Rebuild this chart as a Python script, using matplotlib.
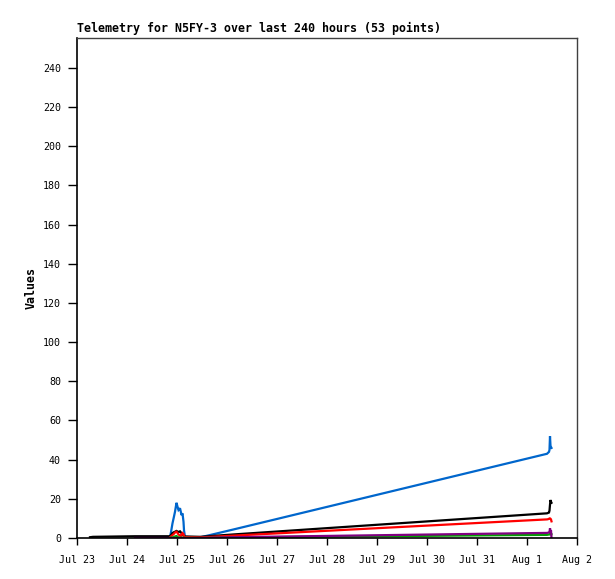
import datetime as dt

import matplotlib as mpl
mpl.use("Agg")
import matplotlib.pyplot as plt
import numpy as np

mpl.rcParams["font.family"] = "DejaVu Sans Mono"
mpl.rcParams["font.size"] = 7.2

start = dt.datetime(2023, 7, 23)

# sample times, days after Jul 23 00:00
days = [0.26, 0.32, 1.16,
        1.84, 1.86, 1.88, 1.91, 1.94, 1.96, 1.99, 2.01, 2.03, 2.06, 2.08, 2.09, 2.11, 2.13, 2.14, 2.16,
        2.46, 3.12,
        9.40, 9.42, 9.44, 9.45, 9.46, 9.47, 9.48, 9.49, 9.50]

blue = [np.nan, np.nan, np.nan,
        np.nan, 0.5, 3.0, 7.5, 11.0, 13.4, 18.0, 16.0, 14.3, 15.2, 13.0, 11.7, 12.6, 8.3, 4.0, 0.5,
        0.3, 4.3,
        43.0, 43.5, 44.0, 45.0, 52.0, 47.0, 46.5, 46.0, np.nan]

black = [0.4, 0.6, 0.9,
         0.9, 1.0, 1.5, 2.5, 3.0, 3.2, 3.6, 3.3, 3.0, 3.4, 2.8, 2.5, 2.0, 1.2, 0.9, 0.8,
         0.6, 1.8,
         12.6, 12.8, 13.0, 14.0, 17.0, 19.4, 18.5, 18.0, np.nan]

red = [np.nan, np.nan, np.nan,
       np.nan, 0.3, 0.8, 1.5, 2.2, 2.8, 3.2, 2.6, 1.8, 1.2, 1.0, 1.6, 2.5, 2.0, 1.0, 0.5,
       0.3, 1.2,
       9.5, 9.6, 9.8, 10.0, 10.0, 9.8, 9.5, 8.5, np.nan]

green = [np.nan, np.nan, np.nan,
         np.nan, 0.1, 0.2, 0.3, 0.5, 0.8, 1.0, 0.6, 0.3, 0.2, 0.1, 0.1, 0.2, 0.1, 0.1, 0.1,
         0.0, 0.3,
         1.6, 1.7, 1.8, 1.8, 1.8, 2.2, 2.0, 1.9, np.nan]

purple = [np.nan, np.nan, 0.0,
          0.0, 0.0, 0.0, 0.0, 0.0, 0.0, 0.0, 0.0, 0.0, 0.0, 0.0, 0.0, 0.0, 0.0, 0.0, 0.0,
          0.0, 0.4,
          2.6, 2.7, 2.8, 3.0, 5.0, 3.5, 4.0, 0.0, np.nan]

series = [
    (blue, "#0066cc"),
    (black, "#000000"),
    (red, "#ff0000"),
    (green, "#00a000"),
    (purple, "#800080"),
]

tick_labels = ["Jul 23", "Jul 24", "Jul 25", "Jul 26", "Jul 27", "Jul 28",
               "Jul 29", "Jul 30", "Jul 31", "Aug 1", "Aug 2"]

times = [start + dt.timedelta(days=d) for d in days]

fig = plt.figure(figsize=(6.15, 5.79), dpi=100)
ax = fig.add_axes([77 / 615, 41 / 579, 500 / 615, 500 / 579])

for values, color in series:
    ax.plot(times, values, color=color, linewidth=1.6, solid_joinstyle="miter")

ticks = [start + dt.timedelta(days=i) for i in range(len(tick_labels))]
ax.set_xticks(ticks)
ax.set_xticklabels(tick_labels)
ax.set_xlim(ticks[0], ticks[-1])

ax.set_ylim(0, 255.3)
ax.set_yticks(np.arange(0, 241, 20))

ax.tick_params(axis="x", direction="out", length=5, width=1, pad=7, color="black")
ax.tick_params(axis="y", direction="out", length=6.5, width=1, pad=5, color="black")

for side in ["left", "bottom"]:
    ax.spines[side].set_color("black")
    ax.spines[side].set_linewidth(1.2)
for side in ["top", "right"]:
    ax.spines[side].set_color("#404040")
    ax.spines[side].set_linewidth(1.0)

ax.set_ylabel("Values", fontweight="bold", fontsize=8.4, labelpad=4)
ax.set_title("Telemetry for N5FY-3 over last 240 hours (53 points)",
             loc="left", fontweight="bold", fontsize=8.4, pad=4)

fig.savefig("out.png", dpi=100)
